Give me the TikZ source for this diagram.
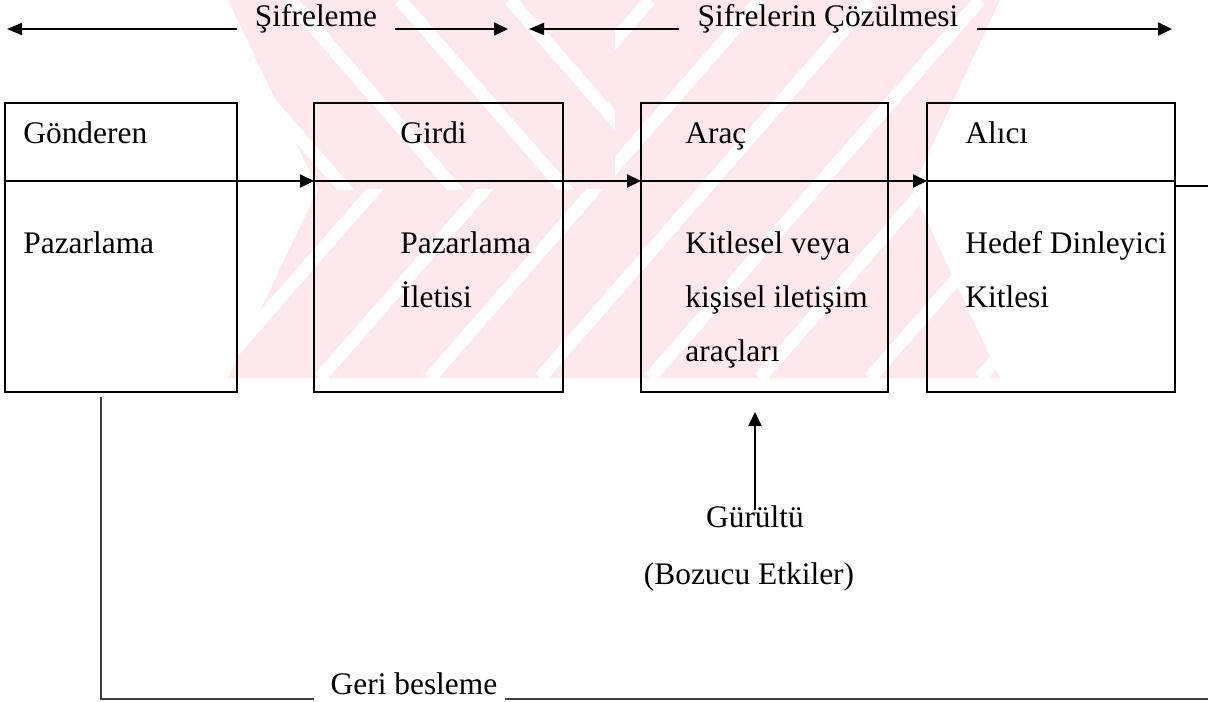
\documentclass[tikz,border=0pt]{standalone}
\usepackage{fontspec}
\setmainfont{Liberation Serif}
\usetikzlibrary{arrows.meta}
\definecolor{wm}{RGB}{253,232,236}
\begin{document}
\begin{tikzpicture}[x=0.5pt,y=-0.5pt,
  box/.style={draw=black, line width=1.3pt, rectangle, inner sep=0pt, outer sep=0pt, anchor=north west},
  lbl/.style={anchor=base west, inner sep=0pt, font=\fontsize{15.7pt}{18pt}\selectfont},
  clbl/.style={anchor=base, inner sep=0pt, font=\fontsize{15.7pt}{18pt}\selectfont},
  ttl/.style={anchor=base, inner ysep=0pt, inner xsep=9pt, font=\fontsize{15.7pt}{18pt}\selectfont},
  mainline/.style={line width=1pt},
  tip/.style={line width=1pt, -{Triangle[length=7pt,width=6.5pt]}},
  tipboth/.style={line width=1pt, {Triangle[length=7.5pt,width=6pt]}-},
  fb/.style={line width=0.7pt, draw=black!75},
]
\useasboundingbox (0,0) rectangle (1208,701);

% watermark (approximate)
\begin{scope}
  \clip (228,0) -- (1000,0) -- (912,189) -- (1000,378) -- (228,378) -- (318,189) -- cycle;
  \fill[wm] (200,0) rectangle (1010,380);
  \begin{scope}
    \clip (200,0) rectangle (615,189);
    \foreach \s in {-150,-40,...,700} {
      \draw[white, line width=6.5pt] (\s,0) -- ++(330,378);
    }
  \end{scope}
  \begin{scope}
    \clip (200,189) rectangle (1010,380) (615,0) rectangle (1010,189);
    \foreach \s in {100,210,...,1400} {
      \draw[white, line width=6.5pt] (\s,378) -- ++(330,-378);
    }
  \end{scope}
\end{scope}

% top arrows
\coordinate (L1) at (7,29);
\coordinate (R1) at (508,29);
\coordinate (L2) at (529,29);
\coordinate (R2) at (1172,29);
\node[ttl] (enc) at (316,27) {Şifreleme};
\node[ttl] (dec) at (828,27) {Şifrelerin Çözülmesi};
\draw[tipboth] (L1) -- (enc.west |- L1);
\draw[tip] (enc.east |- R1) -- (R1);
\draw[tipboth] (L2) -- (dec.west |- L2);
\draw[tip] (dec.east |- R2) -- (R2);

% boxes
\node[box, minimum width=116pt, minimum height=144.5pt] (b1) at (5,103) {};
\node[box, minimum width=124.5pt, minimum height=144.5pt] (b2) at (314,103) {};
\node[box, minimum width=123.5pt, minimum height=144.5pt] (b3) at (641,103) {};
\node[box, minimum width=124pt, minimum height=144.5pt] (b4) at (927,103) {};

% main line through boxes
\coordinate (m) at (0,181);
\draw[mainline] (b1.west |- m) -- (b1.east |- m);
\draw[tip] (b1.east |- m) -- (b2.west |- m);
\draw[mainline] (b2.west |- m) -- (b2.east |- m);
\draw[tip] (b2.east |- m) -- (b3.west |- m);
\draw[mainline] (b3.west |- m) -- (b3.east |- m);
\draw[tip] (b3.east |- m) -- (b4.west |- m);
\draw[mainline] (b4.west |- m) -- (b4.east |- m);
\coordinate (out) at (1208,186);
\draw[line width=0.6pt] (b4.east |- out) -- (out);

% box texts
\node[lbl] (t1a) at (23,143) {Gönderen};
\node[lbl] (t1b) at (23,253) {Pazarlama};
\node[lbl] (t2a) at (400,143) {Girdi};
\node[lbl] (t2b) at (400,253) {Pazarlama};
\node[lbl] (t2c) at (400,307) {İletisi};
\node[lbl] (t3a) at (685,143) {Araç};
\node[lbl] (t3b) at (685,253) {Kitlesel veya};
\node[lbl] (t3c) at (685,307) {kişisel iletişim};
\node[lbl] (t3d) at (685,361) {araçları};
\node[lbl] (t4a) at (965,143) {Alıcı};
\node[lbl] (t4b) at (965,253) {Hedef Dinleyici};
\node[lbl] (t4c) at (965,307) {Kitlesi};

% noise
\node[clbl] (noise) at (755,527) {Gürültü};
\node[clbl] (noise2) at (749,584) {(Bozucu Etkiler)};
\coordinate (nb) at (755,510);
\coordinate (nt) at (755,412);
\draw[tip] (nb) -- (nt);

% feedback
\node[clbl] (geri) at (414,694) {Geri besleme};
\coordinate (f0) at (101,397);
\coordinate (f1) at (101,699);
\coordinate (f2) at (314,699);
\coordinate (f3) at (505,699);
\coordinate (f4) at (1208,699);
\draw[fb] (f0) -- (f1) -- (f2);
\draw[fb] (f3) -- (f4);
\end{tikzpicture}
\end{document}
